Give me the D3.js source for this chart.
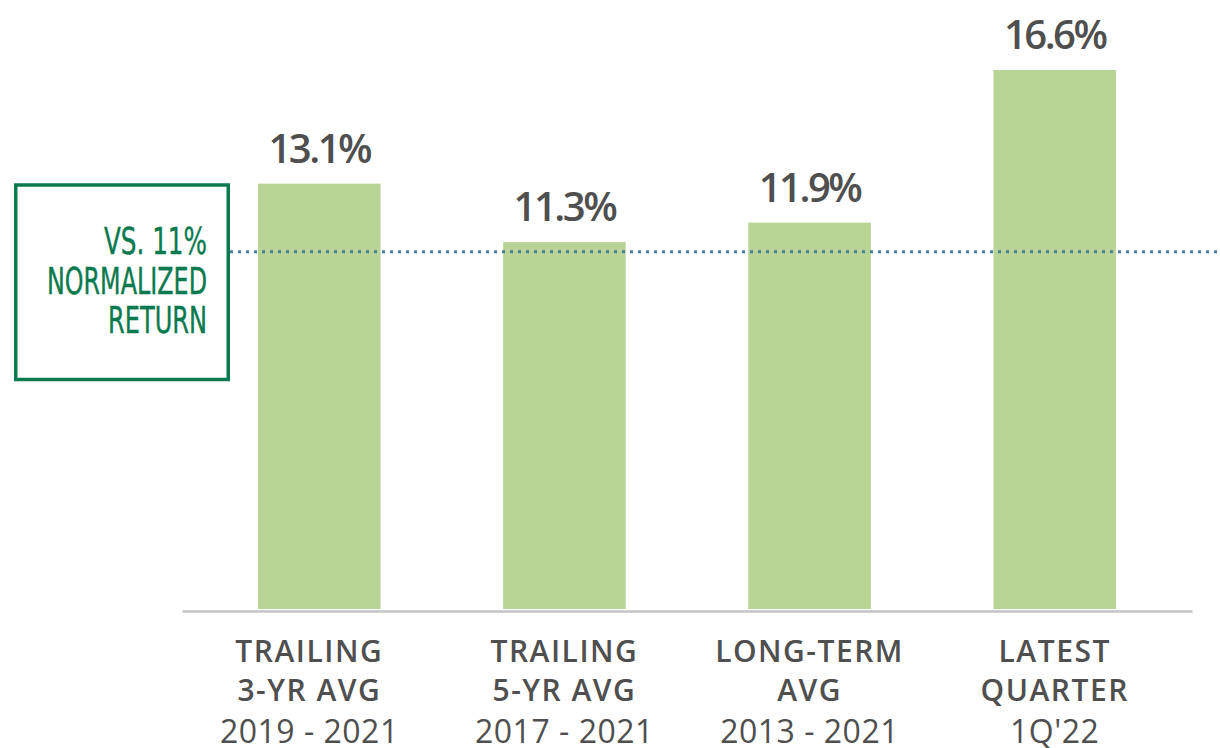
<!DOCTYPE html>
<html>
<head>
<meta charset="utf-8">
<script src="https://cdn.jsdelivr.net/npm/d3@7"></script>
<style>
  html, body { margin: 0; padding: 0; background: #fff; }
  svg { display: block; }
</style>
</head>
<body>
<svg id="chart"></svg>
<script>
const categories = ["TRAILING|3-YR AVG", "TRAILING|5-YR AVG", "LONG-TERM|AVG", "LATEST|QUARTER"];
const periods = ["2019 - 2021", "2017 - 2021", "2013 - 2021", "1Q'22"];
const values = [13.1, 11.3, 11.9, 16.6];
const normalized = 11;
const boxLines = ["VS. 11%", "NORMALIZED", "RETURN"];

const width = 1220, height = 748;

const svg = d3.select("#chart")
    .attr("width", width)
    .attr("height", height);

const x = d3.scaleBand()
    .domain(categories)
    .range([182, 1192])
    .paddingInner(0.5)
    .paddingOuter(0.31);

const y = d3.scaleLinear()
    .domain([0, 17])
    .range([609, 57]);

// bars
svg.selectAll(".bar")
    .data(values)
    .enter()
    .append("rect")
    .attr("class", "bar")
    .attr("x", (d, i) => x(categories[i]))
    .attr("y", d => y(d))
    .attr("width", x.bandwidth())
    .attr("height", d => y(0) - y(d))
    .style("fill", "#b9d595");

// value labels
svg.selectAll(".val")
    .data(values)
    .enter()
    .append("text")
    .attr("class", "val")
    .attr("x", (d, i) => x(categories[i]) + x.bandwidth() / 2)
    .attr("y", d => y(d) - 21)
    .attr("text-anchor", "middle")
    .style("font-family", "'Open Sans', sans-serif")
    .style("font-weight", 600)
    .style("font-size", "40px")
    .style("letter-spacing", "-2.5px")
    .style("fill", "#4f4f4f")
    .text(d => d.toFixed(1) + "%");

// axis
const xAxis = d3.axisBottom(x)
    .tickSize(0)
    .tickSizeOuter(0)
    .tickFormat("");

const ax = svg.append("g")
    .attr("transform", "translate(0,611)")
    .call(xAxis);
ax.select(".domain")
    .attr("stroke", "#c4c4c4")
    .attr("stroke-width", 2.5);

const labels = svg.selectAll(".cat")
    .data(categories)
    .enter()
    .append("text")
    .attr("class", "cat")
    .attr("text-anchor", "middle")
    .style("font-family", "'Open Sans', sans-serif")
    .style("fill", "#4f4f4f");

labels.each(function (d, i) {
    const t = d3.select(this);
    // first label sits a little left of its bar in the original
    const cx = x(d) + x.bandwidth() / 2 - (i === 0 ? 10 : 0);
    d.split("|").forEach((line, j) => {
        t.append("tspan")
            .attr("x", cx)
            .attr("y", 662 + j * 39)
            .style("font-weight", 600)
            .style("font-size", "30px")
            .style("letter-spacing", "1.5px")
            .text(line);
    });
    t.append("tspan")
        .attr("x", cx)
        .attr("y", 743)
        .style("font-weight", 400)
        .style("font-size", "32px")
        .style("letter-spacing", "0.5px")
        .text(periods[i]);
});

// normalized return reference line
svg.append("line")
    .attr("x1", 230)
    .attr("x2", width)
    .attr("y1", y(normalized))
    .attr("y2", y(normalized))
    .attr("stroke", "#4a7d99")
    .attr("stroke-width", 3)
    .attr("stroke-dasharray", "3,5");

// box
svg.append("rect")
    .attr("x", 15.75)
    .attr("y", 185)
    .attr("width", 212.5)
    .attr("height", 194.5)
    .attr("fill", "#fff")
    .attr("stroke", "#0b7a4e")
    .attr("stroke-width", 3.5);

const boxWidths = [103, 160, 99];
svg.selectAll(".boxtxt")
    .data(boxLines)
    .enter()
    .append("text")
    .attr("class", "boxtxt")
    .attr("x", 207)
    .attr("y", (d, i) => 254 + i * 39.5)
    .attr("text-anchor", "end")
    .attr("textLength", (d, i) => boxWidths[i])
    .attr("lengthAdjust", "spacingAndGlyphs")
    .style("font-family", "'Liberation Sans Narrow', 'DejaVu Sans Condensed', sans-serif")
    .style("font-size", "37px")
    .style("fill", "#0b7a4e")
    .style("stroke", "#0b7a4e")
    .style("stroke-width", 0.4)
    .text(d => d);
</script>
</body>
</html>
